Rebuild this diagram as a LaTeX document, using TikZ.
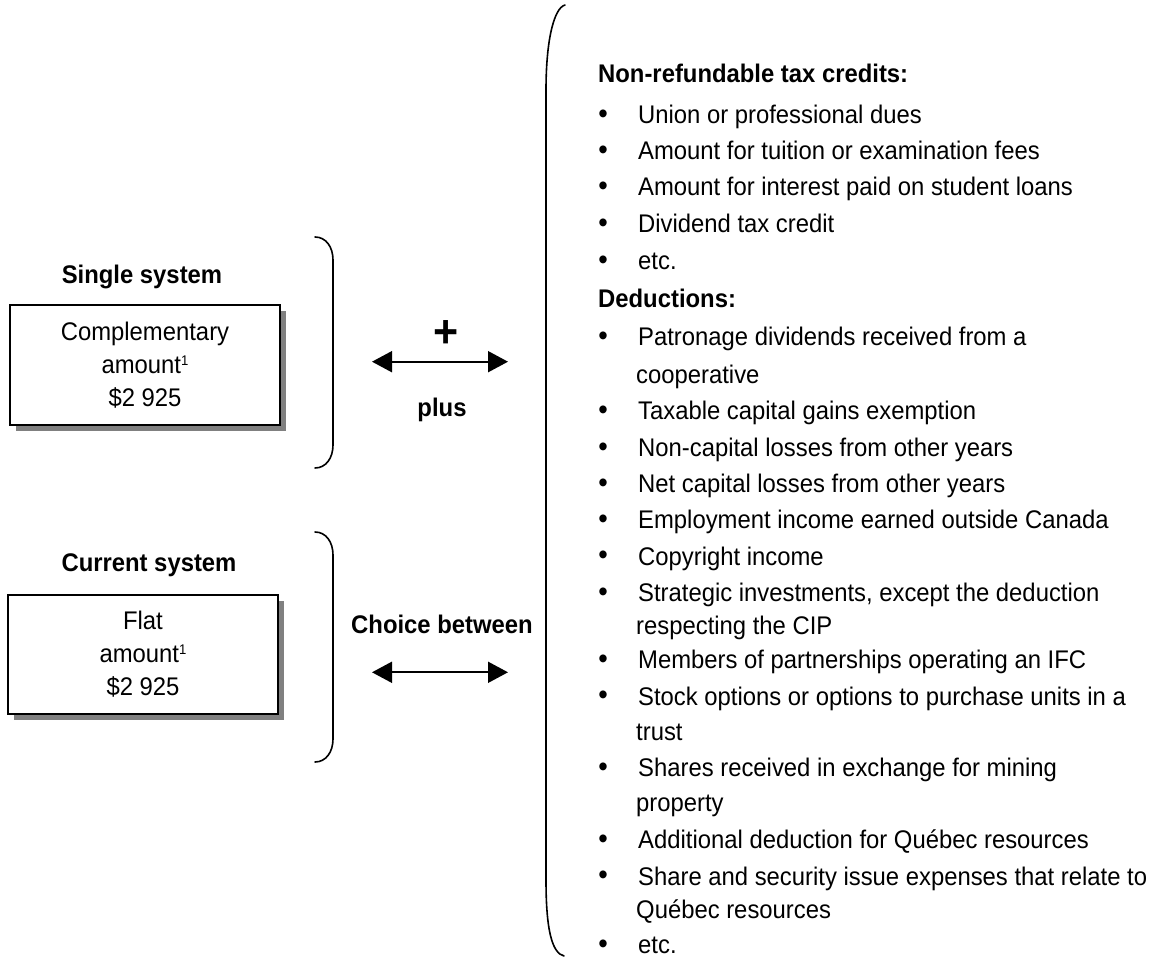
\documentclass[tikz,border=0pt]{standalone}
\usepackage{fontspec}
\setmainfont{Liberation Sans}[FakeStretch=0.935]
\usetikzlibrary{arrows.meta,shadows}
\newcommand\mainfs{\fontsize{25.5}{33}\selectfont}
\newcommand\supone{\raisebox{8pt}{\fontsize{14}{14}\selectfont 1}}
\tikzset{
  txt/.style={anchor=base west, inner sep=0pt, font=\mainfs},
  hd/.style={anchor=base west, inner sep=0pt, font=\mainfs\bfseries},
  bul/.style={anchor=center, inner sep=0pt, yshift=7pt, font=\fontsize{29}{29}\selectfont},
  lbl/.style={anchor=base, inner sep=0pt, font=\mainfs\bfseries},
  amtbox/.style={draw=black, line width=1.6pt, fill=white, minimum width=270pt,
    align=center, inner sep=0pt, font=\mainfs,
    drop shadow={shadow xshift=6pt, shadow yshift=-6pt, fill=black!50, opacity=1}},
  brace/.style={line width=1.6pt, line cap=round},
  dblarrow/.style={line width=1.8pt, {Triangle[length=20pt,width=21pt]}-{Triangle[length=20pt,width=21pt]}}
}
\begin{document}
\begin{tikzpicture}[x=1pt,y=-1pt]
\useasboundingbox (0,0) rectangle (1157,957);
% left side
\node[lbl] (single) at (142,283.3) {Single system};
\node[amtbox, minimum height=120pt] (box1) at (145,365) {Complementary\\amount\supone\\\$2 925};
\node[lbl] (current) at (149,571.7) {Current system};
\node[amtbox, minimum height=119pt] (box2) at (143,654.5) {Flat\\amount\supone\\\$2 925};
% small braces
\draw[brace] (315,237) .. controls (326,237) and (333,247) .. (333,260) -- (333,445) .. controls (333,458) and (326,468) .. (315,468);
\draw[brace] (315,532) .. controls (326,532) and (333,542) .. (333,555) -- (333,739) .. controls (333,752) and (326,762) .. (315,762);
% middle
\node[inner sep=0pt, font=\fontsize{46}{46}\selectfont\bfseries] (plus) at (446,334) {+};
\coordinate (a1l) at (372,361.7);
\coordinate (a1r) at (508,361.7);
\draw[dblarrow] (a1l) -- (a1r);
\node[lbl] (plustxt) at (442,416.7) {plus};
\node[lbl] (choice) at (442,633) {Choice between};
\coordinate (a2l) at (372,672.3);
\coordinate (a2r) at (508,672.3);
\draw[dblarrow] (a2l) -- (a2r);
% big brace
\draw[brace] (565,5) .. controls (554,8) and (546,40) .. (546,90) -- (546,880) .. controls (546,930) and (552,953) .. (564,956);
% right list
\node[hd] (h1) at (598,82.7) {Non-refundable tax credits:};
\node[bul] (b1) at (603,123.3) {•}; \node[txt] (t1) at (638,123.3) {Union or professional dues};
\node[bul] (b2) at (603,159.3) {•}; \node[txt] (t2) at (638,159.3) {Amount for tuition or examination fees};
\node[bul] (b3) at (603,196) {•}; \node[txt] (t3) at (638,196) {Amount for interest paid on student loans};
\node[bul] (b4) at (603,232.7) {•}; \node[txt] (t4) at (638,232.7) {Dividend tax credit};
\node[bul] (b5) at (603,270) {•}; \node[txt] (t5) at (638,270) {etc.};
\node[hd] (h2) at (598,308) {Deductions:};
\node[bul] (b6) at (603,346) {•}; \node[txt] (t6) at (638,346) {Patronage dividends received from a};
\node[txt] (t6b) at (636,383.3) {cooperative};
\node[bul] (b7) at (603,420) {•}; \node[txt] (t7) at (638,420) {Taxable capital gains exemption};
\node[bul] (b8) at (603,456.7) {•}; \node[txt] (t8) at (638,456.7) {Non-capital losses from other years};
\node[bul] (b9) at (603,492.7) {•}; \node[txt] (t9) at (638,492.7) {Net capital losses from other years};
\node[bul] (b10) at (603,528.3) {•}; \node[txt] (t10) at (638,528.3) {Employment income earned outside Canada};
\node[bul] (b11) at (603,565) {•}; \node[txt] (t11) at (638,565) {Copyright income};
\node[bul] (b12) at (603,601.7) {•}; \node[txt] (t12) at (638,601.7) {Strategic investments, except the deduction};
\node[txt] (t12b) at (636,634.3) {respecting the CIP};
\node[bul] (b13) at (603,668.3) {•}; \node[txt] (t13) at (638,668.3) {Members of partnerships operating an IFC};
\node[bul] (b14) at (603,705) {•}; \node[txt] (t14) at (638,705) {Stock options or options to purchase units in a};
\node[txt] (t14b) at (636,740) {trust};
\node[bul] (b15) at (603,776.7) {•}; \node[txt] (t15) at (638,776.7) {Shares received in exchange for mining};
\node[txt] (t15b) at (636,811.7) {property};
\node[bul] (b16) at (603,848.3) {•}; \node[txt] (t16) at (638,848.3) {Additional deduction for Québec resources};
\node[bul] (b17) at (603,885) {•}; \node[txt] (t17) at (638,885) {Share and security issue expenses that relate to};
\node[txt] (t17b) at (636,918.3) {Québec resources};
\node[bul] (b18) at (603,953.3) {•}; \node[txt] (t18) at (638,953.3) {etc.};
\end{tikzpicture}
\end{document}
